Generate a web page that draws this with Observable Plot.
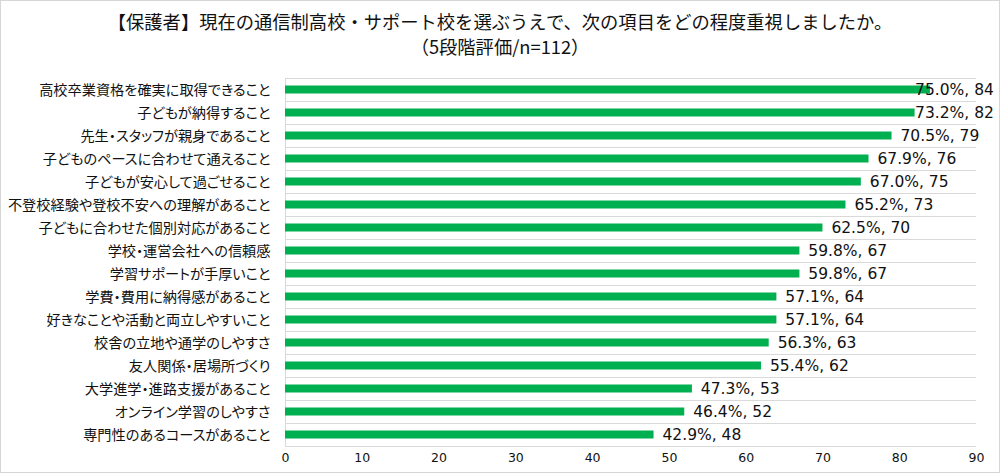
<!DOCTYPE html>
<html><head><meta charset="utf-8">
<script src="https://cdn.jsdelivr.net/npm/d3@7"></script>
<script src="https://cdn.jsdelivr.net/npm/@observablehq/plot@0.6"></script>
<style>
body{margin:0;background:#fff;}
#wrap{position:relative;width:1000px;height:473px;overflow:hidden;background:#fff;}
#border{position:absolute;left:0;top:0;width:1000px;height:473px;box-sizing:border-box;border:1.5px solid #d6d6d6;pointer-events:none;}
#title{height:60px;box-sizing:border-box;padding-top:9px;text-align:center;font-family:"Noto Sans CJK JP";font-size:18.3px;line-height:25px;color:#111;}
#chart svg{display:block;}
#chart g[aria-label="y-axis tick label"]{font-feature-settings:"palt";}
</style></head><body>
<div id="wrap">
<div id="title">【保護者】現在の通信制高校・サポート校を選ぶうえで、次の項目をどの程度重視しましたか。<br>（5段階評価/n=112）</div>
<div id="chart"></div>
<div id="border"></div>
</div>
<script>
const items = [
  "高校卒業資格を確実に取得できること",
  "子どもが納得すること",
  "先生・スタッフが親身であること",
  "子どものペースに合わせて通えること",
  "子どもが安心して過ごせること",
  "不登校経験や登校不安への理解があること",
  "子どもに合わせた個別対応があること",
  "学校・運営会社への信頼感",
  "学習サポートが手厚いこと",
  "学費・費用に納得感があること",
  "好きなことや活動と両立しやすいこと",
  "校舎の立地や通学のしやすさ",
  "友人関係・居場所づくり",
  "大学進学・進路支援があること",
  "オンライン学習のしやすさ",
  "専門性のあるコースがあること"
];
const counts = [84, 82, 79, 76, 75, 73, 70, 67, 67, 64, 64, 63, 62, 53, 52, 48];
const pcts = [75.0, 73.2, 70.5, 67.9, 67.0, 65.2, 62.5, 59.8, 59.8, 57.1, 57.1, 56.3, 55.4, 47.3, 46.4, 42.9];
const xTicks = [0, 10, 20, 30, 40, 50, 60, 70, 80, 90];

const data = items.map((name, i) => ({name, count: counts[i], pct: pcts[i]}));
const band = 23;
const grid = "#d9d9d9";

const chart = Plot.plot({
  width: 1000,
  height: 413,
  marginLeft: 285,
  marginRight: 24,
  marginTop: 18,
  marginBottom: 27,
  x: {domain: [0, 90]},
  y: {domain: items, padding: 0},
  style: {background: "#fff", color: "#222"},
  marks: [
    Plot.tickY(items, {y: d => d, dy: -band / 2, stroke: grid}),
    Plot.tickY(items.slice(-1), {y: d => d, dy: band / 2, stroke: grid}),
    Plot.ruleX([0], {stroke: grid}),
    Plot.barX(data, {x: "count", y: "name", fill: "#00b050", insetTop: 7.5, insetBottom: 7.5}),
    Plot.text(data, {
      x: d => Math.min(d.count + 1.1, 82),
      y: "name",
      text: d => `${d.pct.toFixed(1)}%, ${d.count}`,
      textAnchor: "start",
      fontFamily: "DejaVu Sans",
      fontSize: 15.5,
      fill: "#111"
    }),
    Plot.axisY({tickSize: 0, tickPadding: 15, fontFamily: "Noto Sans CJK JP", fontSize: 14.2, label: null, fill: "#111"}),
    Plot.axisX({ticks: xTicks, tickSize: 0, tickPadding: 7, fontFamily: "DejaVu Sans", fontSize: 12.5, label: null, fill: "#111"})
  ]
});
document.getElementById("chart").appendChild(chart);
</script>
</body></html>
